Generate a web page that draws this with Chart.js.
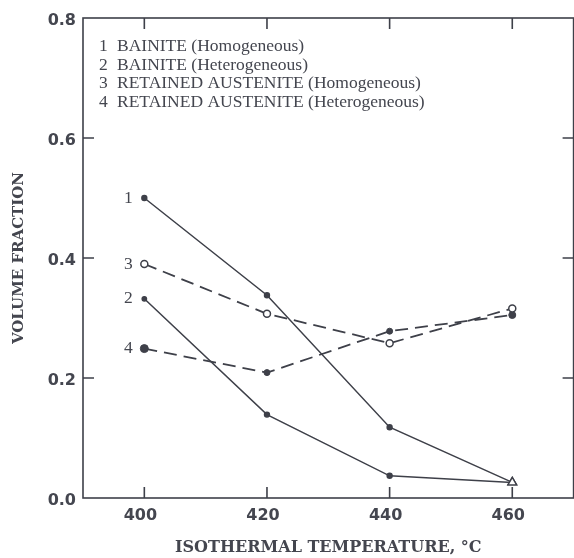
<!DOCTYPE html>
<html>
<head>
<meta charset="utf-8">
<script src="https://cdn.jsdelivr.net/npm/chart.js@4.4.0/dist/chart.umd.min.js"></script>
<style>
    html, body { margin: 0; padding: 0; background: #fff; overflow: hidden; }
    #wrap { width: 574px; height: 558px; overflow: hidden; }
    canvas { display: block; }
</style>
</head>
<body>
<div id="wrap"><canvas id="volumeChart" width="580" height="558"></canvas></div>
<script>
// Temperaturas de tratamento isotérmico (°C)
const temperatures = [400, 420, 440, 460];

// Frações volumétricas
const bainiteHomog = [0.50, 0.338, 0.118, 0.026];
const bainiteHeterog = [0.332, 0.139, 0.037, 0.026];
const austeniteHomog = [0.39, 0.307, 0.258, 0.316];
const austeniteHeterog = [0.249, 0.209, 0.278, 0.305];

// Rótulos
const seriesTags = ['1', '2', '3', '4'];
const seriesNames = [
    'BAINITE (Homogeneous)',
    'BAINITE (Heterogeneous)',
    'RETAINED AUSTENITE (Homogeneous)',
    'RETAINED AUSTENITE (Heterogeneous)'
];
const xTicks = [400, 420, 440, 460];
const yTicks = [0.0, 0.2, 0.4, 0.6, 0.8];

const ink = '#3e4049';
const textInk = '#44464f';

function toPoints(values) {
    return temperatures.map((t, i) => ({ x: t, y: values[i] }));
}

// Moldura com marcas para dentro
const framePlugin = {
    id: 'frame',
    afterDraw(chart) {
        const { ctx, chartArea: a, scales } = chart;
        const len = 11;
        ctx.save();
        ctx.strokeStyle = ink;
        ctx.lineWidth = 1.6;
        ctx.strokeRect(a.left, a.top, a.right - a.left, a.bottom - a.top);
        ctx.beginPath();
        xTicks.forEach(v => {
            const x = scales.x.getPixelForValue(v);
            ctx.moveTo(x, a.bottom);
            ctx.lineTo(x, a.bottom - len);
            ctx.moveTo(x, a.top);
            ctx.lineTo(x, a.top + len);
        });
        yTicks.slice(1, -1).forEach(v => {
            const y = scales.y.getPixelForValue(v);
            ctx.moveTo(a.left, y);
            ctx.lineTo(a.left + len, y);
            ctx.moveTo(a.right, y);
            ctx.lineTo(a.right - len, y);
        });
        ctx.stroke();

        // Legenda no canto superior
        ctx.fillStyle = textInk;
        ctx.font = '17.5px "Liberation Serif", serif';
        ctx.textBaseline = 'middle';
        ctx.textAlign = 'left';
        seriesNames.forEach((name, i) => {
            const y = a.top + 28.5 + i * 18.7;
            ctx.fillText(seriesTags[i], a.left + 16, y);
            ctx.fillText(name, a.left + 34, y);
        });

        // Números junto ao primeiro ponto de cada curva
        ctx.textAlign = 'center';
        chart.data.datasets.forEach((ds, i) => {
            const pt = chart.getDatasetMeta(i).data[0];
            ctx.fillText(seriesTags[i], pt.x - 16, pt.y);
        });
        ctx.restore();
    }
};

const ctx = document.getElementById('volumeChart').getContext('2d');
new Chart(ctx, {
    type: 'line',
    data: {
        datasets: [
            {
                label: seriesNames[0],
                data: toPoints(bainiteHomog),
                borderColor: ink,
                borderWidth: 1.5,
                pointStyle: ['circle', 'circle', 'circle', 'triangle'],
                pointRadius: [2.5, 2.5, 2.5, 5],
                pointBackgroundColor: [ink, ink, ink, '#fff'],
                pointBorderColor: ink,
                pointBorderWidth: 1.4
            },
            {
                label: seriesNames[1],
                data: toPoints(bainiteHeterog),
                borderColor: ink,
                borderWidth: 1.5,
                pointStyle: ['circle', 'circle', 'circle', 'triangle'],
                pointRadius: [2.2, 2.5, 2.5, 5],
                pointBackgroundColor: [ink, ink, ink, '#fff'],
                pointBorderColor: ink,
                pointBorderWidth: 1.4
            },
            {
                label: seriesNames[2],
                data: toPoints(austeniteHomog),
                borderColor: ink,
                borderWidth: 1.8,
                borderDash: [13, 7],
                pointStyle: 'circle',
                pointRadius: 3.5,
                pointBackgroundColor: '#fff',
                pointBorderColor: ink,
                pointBorderWidth: 1.5
            },
            {
                label: seriesNames[3],
                data: toPoints(austeniteHeterog),
                borderColor: ink,
                borderWidth: 1.8,
                borderDash: [13, 7],
                pointStyle: 'circle',
                pointRadius: [4, 3, 3, 3.5],
                pointBackgroundColor: ink,
                pointBorderColor: ink,
                pointBorderWidth: 1
            }
        ]
    },
    options: {
        responsive: false,
        animation: false,
        layout: {
            padding: { top: 18, right: 0, left: 0, bottom: 0 }
        },
        plugins: {
            legend: { display: false },
            tooltip: { enabled: false }
        },
        scales: {
            x: {
                type: 'linear',
                min: 390,
                max: 470,
                afterBuildTicks: scale => { scale.ticks = xTicks.map(v => ({ value: v })); },
                afterFit: scale => { scale.height = 60; },
                grid: { display: false, drawTicks: false },
                border: { display: false },
                ticks: {
                    padding: 8,
                    labelOffset: -4,
                    color: textInk,
                    font: { family: '"DejaVu Sans"', size: 16, weight: 'bold' }
                },
                title: {
                    display: true,
                    text: 'ISOTHERMAL TEMPERATURE, \u00B0C',
                    color: textInk,
                    padding: { top: 0, bottom: 1 },
                    font: { family: '"DejaVu Serif"', size: 16, weight: 'bold' }
                }
            },
            y: {
                min: 0,
                max: 0.8,
                afterBuildTicks: scale => { scale.ticks = yTicks.map(v => ({ value: v })); },
                afterFit: scale => { scale.width = 83; },
                grid: { display: false, drawTicks: false },
                border: { display: false },
                ticks: {
                    padding: 7,
                    labelOffset: 3,
                    color: textInk,
                    callback: v => v.toFixed(1),
                    font: { family: '"DejaVu Sans"', size: 16, weight: 'bold' }
                },
                title: {
                    display: true,
                    text: 'VOLUME FRACTION',
                    color: textInk,
                    padding: { top: 10, bottom: 0 },
                    font: { family: '"DejaVu Serif"', size: 15, weight: 'bold' }
                }
            }
        }
    },
    plugins: [framePlugin]
});
</script>
</body>
</html>
